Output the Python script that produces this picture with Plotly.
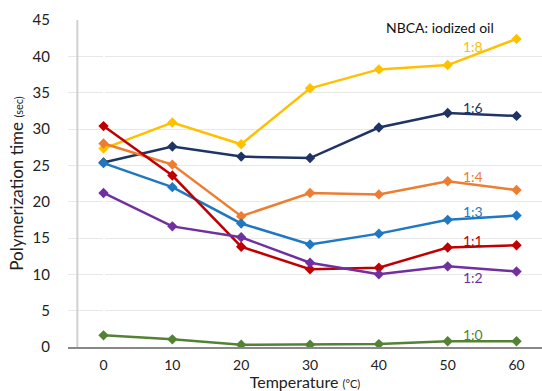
import plotly.graph_objects as go

temps = [0, 10, 20, 30, 40, 50, 60]
ratio_labels = ["1:8", "1:6", "1:4", "1:3", "1:1", "1:2", "1:0"]
s_1_8 = [27.3, 30.9, 27.9, 35.6, 38.2, 38.8, 42.4]
s_1_6 = [25.4, 27.6, 26.2, 26.0, 30.2, 32.2, 31.8]
s_1_4 = [28.0, 25.1, 18.0, 21.2, 21.0, 22.8, 21.6]
s_1_3 = [25.3, 22.0, 17.0, 14.1, 15.6, 17.5, 18.1]
s_1_1 = [30.4, 23.6, 13.8, 10.7, 10.9, 13.7, 14.0]
s_1_2 = [21.2, 16.6, 15.1, 11.6, 10.0, 11.1, 10.4]
s_1_0 = [1.6, 1.05, 0.3, 0.3, 0.4, 0.8, 0.8]
series = [s_1_8, s_1_6, s_1_4, s_1_3, s_1_1, s_1_2, s_1_0]
colors = ["#FFC000", "#1F3464", "#ED7D31", "#1F78C1", "#C00000", "#7030A0", "#548235"]
label_y = [41.3, 33.0, 23.4, 18.7, 14.7, 9.5, 1.75]
y_ticks = [0, 5, 10, 15, 20, 25, 30, 35, 40, 45]

FONT = "Lato"
fig = go.Figure()
for vals, c in zip(series, colors):
    fig.add_trace(go.Scatter(x=temps, y=vals, mode="lines+markers",
                             line=dict(color=c, width=2.5),
                             marker=dict(symbol="diamond", size=8, color=c),
                             showlegend=False))
for lab, ly, c in zip(ratio_labels, label_y, colors):
    fig.add_annotation(x=53.7, y=ly, text=lab, showarrow=False,
                       font=dict(family=FONT, size=14, color=c))
fig.add_annotation(x=48.9, y=43.9, text="NBCA: iodized oil", showarrow=False,
                   font=dict(family=FONT, size=14, color="#111"))

fig.add_shape(type="line", xref="x", yref="paper", x0=-3.8, x1=-3.8, y0=0, y1=1,
              line=dict(color="#d0d0d0", width=2))

fig.update_layout(
    width=542, height=391,
    margin=dict(l=68, r=0, t=20, b=44),
    paper_bgcolor="white", plot_bgcolor="white",
    font=dict(family=FONT, size=14, color="#222"),
    xaxis=dict(range=[-5.16, 63.7], tickvals=temps, showgrid=False,
               showline=True, linecolor="#888", linewidth=1.5,
               ticks="outside", ticklen=4, tickcolor="rgba(0,0,0,0)",
               tickfont=dict(size=14, family=FONT),
               title=dict(text="Temperature <span style='font-size:11px'>(°C)</span>",
                          font=dict(size=16, family=FONT), standoff=4)),
    yaxis=dict(range=[0, 45], tickvals=y_ticks, showgrid=True, gridcolor="#e8e8e8",
               gridwidth=1, zeroline=False, showline=False,
               ticks="outside", ticklen=14, tickcolor="rgba(0,0,0,0)",
               tickfont=dict(size=15, family=FONT),
               title=dict(text="Polymerization time <span style='font-size:11px'>(sec)</span>",
                          font=dict(size=17, family=FONT), standoff=4)),
)
fig.write_html("out.html")
